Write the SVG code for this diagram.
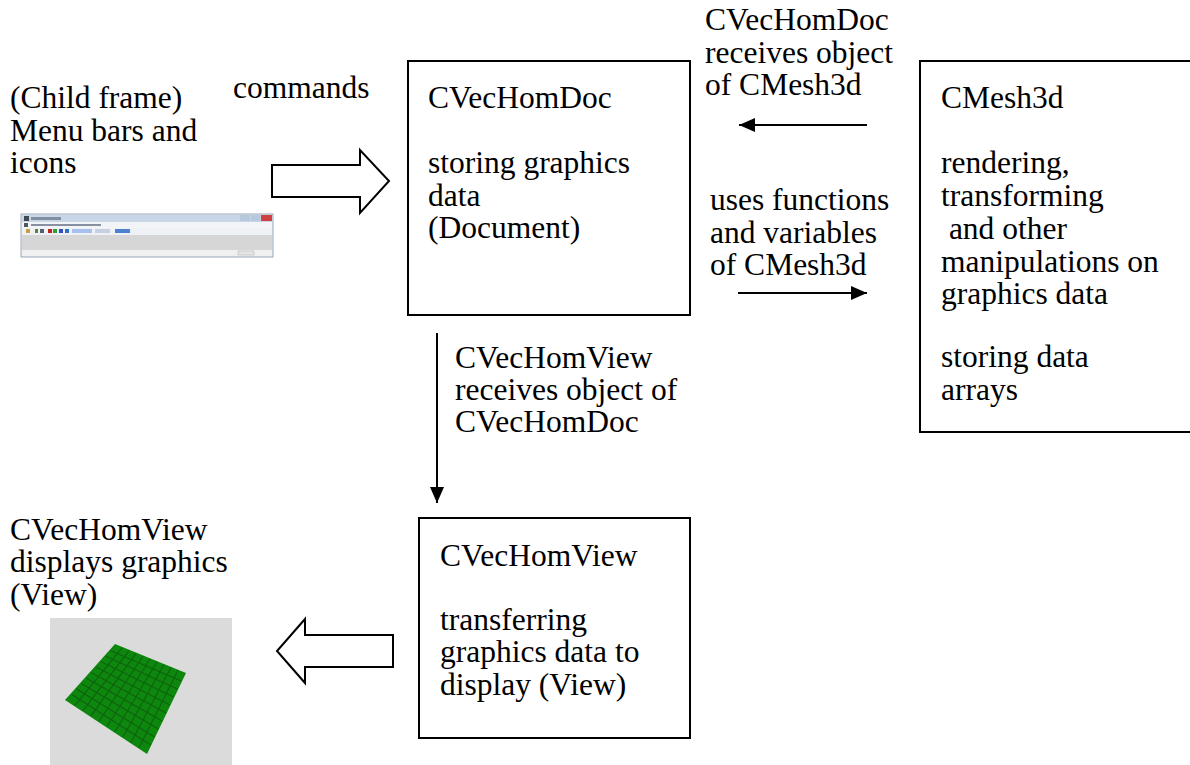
<svg xmlns="http://www.w3.org/2000/svg" width="1190" height="765" viewBox="0 0 1190 765">
  <style>
    .box { fill: #ffffff; stroke: #000000; stroke-width: 2; }
    .lbl { font-family: "Liberation Serif", "Times New Roman", serif; font-size: 31.5px; fill: #000000; }
    .conn { stroke: #000000; stroke-width: 2; fill: none; }
    .block { fill: #ffffff; stroke: #000000; stroke-width: 2; stroke-linejoin: miter; }
    .grid { stroke: #0a5a0a; stroke-width: 1.1; fill: none; opacity: 0.8; }
  </style>
  <defs>
    <marker id="head" viewBox="0 0 16 14" markerWidth="16" markerHeight="14" refX="16" refY="7" orient="auto" markerUnits="userSpaceOnUse">
      <path d="M0,0 L16,7 L0,14 z" fill="#000000"/>
    </marker>
    <filter id="soft" x="-5%" y="-5%" width="110%" height="110%">
      <feGaussianBlur stdDeviation="0.7"/>
    </filter>
  </defs>

  <rect width="1190" height="765" fill="#ffffff"/>

  <!-- child frame: caption and menu-bar snapshot -->
  <g id="child-frame">
    <text class="lbl" x="10" y="108">(Child frame)</text>
    <text class="lbl" x="10" y="141">Menu bars and</text>
    <text class="lbl" x="10" y="173">icons</text>
    <g filter="url(#soft)">
      <rect x="21" y="214" width="252" height="43" fill="#e8eef5" stroke="#9aa8b8" stroke-width="1"/>
      <rect x="22" y="215" width="250" height="7" fill="#c8d6e8"/>
      <rect x="24" y="216" width="5" height="5" fill="#404850"/>
      <rect x="31" y="217" width="30" height="3" fill="#8090a0"/>
      <rect x="240" y="215" width="10" height="6" fill="#b8c8dc"/>
      <rect x="251" y="215" width="9" height="6" fill="#b8c8dc"/>
      <rect x="261" y="215" width="11" height="6" fill="#d04040"/>
      <rect x="22" y="222" width="250" height="6" fill="#f2f4f8"/>
      <rect x="24" y="223" width="4" height="4" fill="#505860"/>
      <rect x="31" y="224" width="70" height="2" fill="#8890a0"/>
      <rect x="22" y="228" width="250" height="7" fill="#eef1f5"/>
      <rect x="26" y="229" width="4" height="4" fill="#c8a040"/>
      <rect x="35" y="229" width="3" height="4" fill="#608030"/>
      <rect x="40" y="229" width="4" height="4" fill="#506070"/>
      <rect x="48" y="229" width="4" height="4" fill="#c02020"/>
      <rect x="53" y="229" width="4" height="4" fill="#30a030"/>
      <rect x="59" y="229" width="4" height="4" fill="#3050c0"/>
      <rect x="65" y="229" width="4" height="4" fill="#3070c0"/>
      <rect x="72" y="229" width="20" height="4" fill="#a8c0f0"/>
      <rect x="95" y="229" width="15" height="4" fill="#c8d0e0"/>
      <rect x="115" y="229" width="15" height="4" fill="#5080d0"/>
      <rect x="22" y="235" width="250" height="15" fill="#d6d6d6"/>
      <rect x="22" y="250" width="250" height="6" fill="#f0f0f0"/>
      <rect x="238" y="251" width="16" height="4" fill="#e4e4e4" stroke="#b0b0b0" stroke-width="0.5"/>
    </g>
  </g>

  <!-- rendered view: mesh snapshot with its caption -->
  <g id="view-output">
    <text class="lbl" x="10" y="540">CVecHomView</text>
    <text class="lbl" x="10" y="572">displays graphics</text>
    <text class="lbl" x="10" y="605">(View)</text>
    <rect x="50" y="618" width="182" height="147" fill="#dbdbdb"/>
    <g filter="url(#soft)">
      <polygon points="115,644 186,673 147,754 65,700" fill="#0b870b"/>
      <g class="grid">
        <line x1="110.2" y1="650.5" x2="181.2" y2="681"/>
        <line x1="105.4" y1="656" x2="177.4" y2="689"/>
        <line x1="100.6" y1="661.5" x2="173.6" y2="697"/>
        <line x1="95.8" y1="667" x2="169.8" y2="705"/>
        <line x1="91" y1="672.5" x2="166" y2="713"/>
        <line x1="86.2" y1="678" x2="162.2" y2="721"/>
        <line x1="81.4" y1="683.5" x2="158.4" y2="729"/>
        <line x1="76.6" y1="689" x2="154.6" y2="737"/>
        <line x1="71.8" y1="694.5" x2="150.8" y2="745"/>
        <line x1="122" y1="647.8" x2="75" y2="705.3"/>
        <line x1="129" y1="650.6" x2="83" y2="710.6"/>
        <line x1="136" y1="653.4" x2="91" y2="715.9"/>
        <line x1="143" y1="656.2" x2="99" y2="721.2"/>
        <line x1="150" y1="659" x2="107" y2="726.5"/>
        <line x1="157" y1="661.8" x2="115" y2="731.8"/>
        <line x1="164" y1="664.6" x2="123" y2="737.1"/>
        <line x1="171" y1="667.4" x2="131" y2="742.4"/>
        <line x1="178" y1="670.2" x2="139" y2="747.7"/>
      </g>
    </g>
  </g>

  <g id="doc">
    <rect class="box" x="408" y="61" width="282" height="254"/>
    <text class="lbl" x="428" y="108">CVecHomDoc</text>
    <text class="lbl" x="428" y="173">storing graphics</text>
    <text class="lbl" x="428" y="206">data</text>
    <text class="lbl" x="428" y="238">(Document)</text>
  </g>

  <g id="mesh">
    <rect class="box" x="920" y="61" width="280" height="371"/>
    <text class="lbl" x="941" y="108">CMesh3d</text>
    <text class="lbl" x="941" y="173">rendering,</text>
    <text class="lbl" x="941" y="206">transforming</text>
    <text class="lbl" x="941" y="239" xml:space="preserve"> and other</text>
    <text class="lbl" x="941" y="272">manipulations on</text>
    <text class="lbl" x="941" y="304">graphics data</text>
    <text class="lbl" x="941" y="367">storing data</text>
    <text class="lbl" x="941" y="400">arrays</text>
  </g>

  <g id="view">
    <rect class="box" x="419" y="518" width="271" height="220"/>
    <text class="lbl" x="440" y="566">CVecHomView</text>
    <text class="lbl" x="440" y="630">transferring</text>
    <text class="lbl" x="440" y="662">graphics data to</text>
    <text class="lbl" x="440" y="695">display (View)</text>
  </g>

  <g id="connectors">
    <polygon class="block" points="272,165 360,165 360,150 389,181 360,213 360,197 272,197"/>
    <text class="lbl" x="233" y="98">commands</text>

    <polygon class="block" points="393,635 305,635 305,619 277,651 305,683 305,667 393,667"/>

    <line class="conn" x1="867" y1="125" x2="739" y2="125" marker-end="url(#head)"/>
    <text class="lbl" x="705" y="30">CVecHomDoc</text>
    <text class="lbl" x="705" y="63">receives object</text>
    <text class="lbl" x="705" y="95">of CMesh3d</text>

    <text class="lbl" x="710" y="210">uses functions</text>
    <text class="lbl" x="710" y="243">and variables</text>
    <text class="lbl" x="710" y="275">of CMesh3d</text>
    <line class="conn" x1="738" y1="293" x2="867" y2="293" marker-end="url(#head)"/>

    <line class="conn" x1="437" y1="333" x2="437" y2="503" marker-end="url(#head)"/>
    <text class="lbl" x="455" y="368">CVecHomView</text>
    <text class="lbl" x="455" y="400">receives object of</text>
    <text class="lbl" x="455" y="432">CVecHomDoc</text>
  </g>
</svg>
